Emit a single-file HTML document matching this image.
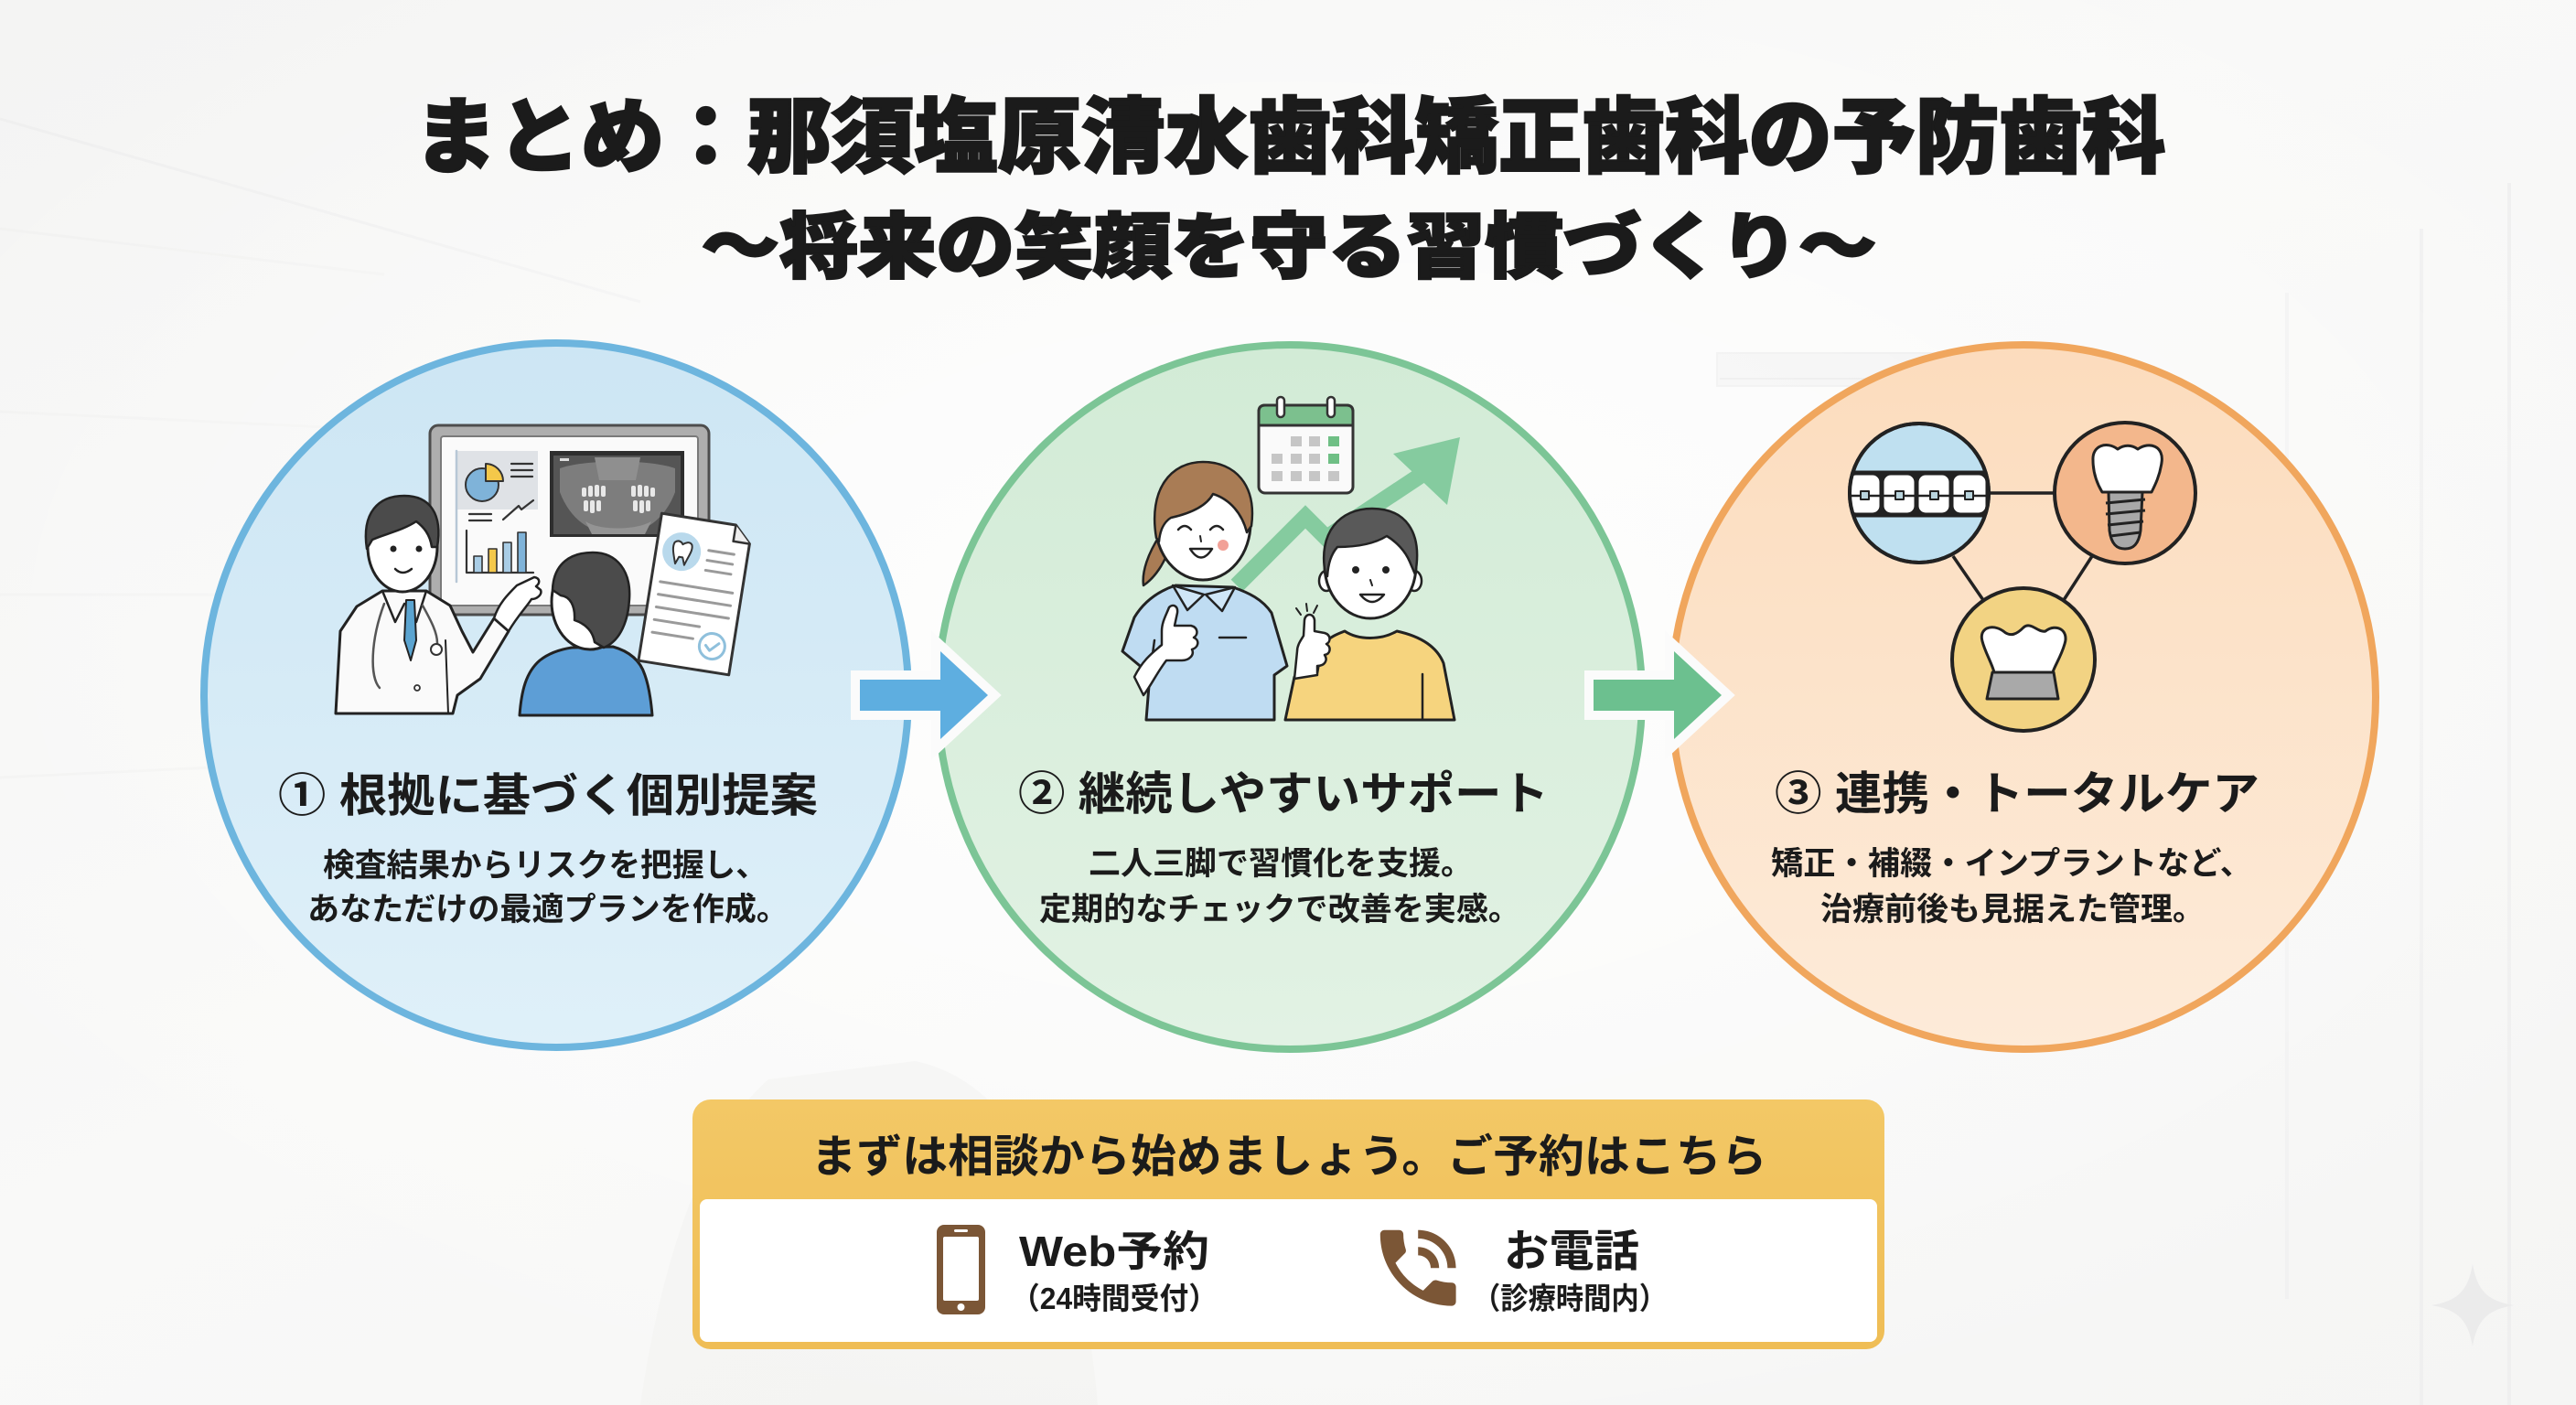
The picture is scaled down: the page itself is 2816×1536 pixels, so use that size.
<!DOCTYPE html>
<html lang="ja">
<head>
<meta charset="utf-8">
<style>
html,body{margin:0;padding:0;}
body{width:2816px;height:1536px;overflow:hidden;background:#f6f6f5;}
svg{display:block;}
text{font-family:"Liberation Sans","Noto Sans CJK JP",sans-serif;font-weight:700;fill:#1b1b1b;}
</style>
</head>
<body>
<svg width="2816" height="1536" viewBox="0 0 2816 1536" xmlns="http://www.w3.org/2000/svg">
<defs>
  <linearGradient id="bg" x1="0" y1="0" x2="1" y2="1">
    <stop offset="0" stop-color="#f4f4f3"/>
    <stop offset="0.45" stop-color="#f9f9f8"/>
    <stop offset="1" stop-color="#f5f5f4"/>
  </linearGradient>
  <radialGradient id="glow" cx="0.5" cy="0.45" r="0.6">
    <stop offset="0" stop-color="#ffffff" stop-opacity="0.9"/>
    <stop offset="1" stop-color="#ffffff" stop-opacity="0"/>
  </radialGradient>
  <linearGradient id="c1" x1="0" y1="0" x2="0" y2="1">
    <stop offset="0" stop-color="#cde6f4"/>
    <stop offset="1" stop-color="#dff0f9"/>
  </linearGradient>
  <linearGradient id="c2" x1="0" y1="0" x2="0" y2="1">
    <stop offset="0" stop-color="#d2ebd6"/>
    <stop offset="1" stop-color="#e2f2e4"/>
  </linearGradient>
  <linearGradient id="c3" x1="0" y1="0" x2="0" y2="1">
    <stop offset="0" stop-color="#fcdcbd"/>
    <stop offset="1" stop-color="#fdebd9"/>
  </linearGradient>
  <linearGradient id="yb" x1="0" y1="0" x2="0" y2="1">
    <stop offset="0" stop-color="#f3c866"/>
    <stop offset="1" stop-color="#efbd55"/>
  </linearGradient>
  <clipPath id="cpBlue"><circle cx="2098" cy="539" r="76"/></clipPath>
</defs>

<!-- background -->
<rect width="2816" height="1536" fill="url(#bg)"/>
<g stroke="#f0f0ef" stroke-width="3" opacity="0.6">
  <line x1="0" y1="250" x2="420" y2="300"/>
  <line x1="0" y1="450" x2="420" y2="470"/>
  <line x1="0" y1="650" x2="420" y2="650"/>
  <line x1="0" y1="850" x2="420" y2="830"/>
</g>
<line x1="0" y1="130" x2="700" y2="330" stroke="#efefef" stroke-width="3"/>
<line x1="2647" y1="250" x2="2647" y2="1536" stroke="#efefef" stroke-width="4"/>
<line x1="2743" y1="200" x2="2743" y2="1536" stroke="#efefef" stroke-width="4"/>
<line x1="2500" y1="320" x2="2500" y2="1420" stroke="#f1f1f1" stroke-width="4"/>
<rect x="1877" y="386" width="269" height="36" fill="#eeeeee" stroke="#e6e6e6" stroke-width="2"/>
<line x1="1880" y1="414" x2="2143" y2="414" stroke="#e0e0e0" stroke-width="2"/>
<rect width="2816" height="1536" fill="url(#glow)"/>
<path d="M700 1536 C720 1400 760 1250 840 1180 L1000 1160 C1100 1180 1180 1300 1200 1536 Z" fill="#efefee" opacity="0.4"/>

<!-- sparkle -->
<path d="M2703 1382 C2708 1410 2718 1422 2748 1427 C2718 1432 2708 1444 2703 1472 C2698 1444 2688 1432 2658 1427 C2688 1422 2698 1410 2703 1382 Z" fill="#ebebeb"/>

<!-- Title -->
<text x="1410" y="181" font-size="90" text-anchor="middle" textLength="1915" lengthAdjust="spacingAndGlyphs" stroke="#1b1b1b" stroke-width="2.5" style="font-weight:900">まとめ：那須塩原清水歯科矯正歯科の予防歯科</text>
<text x="1409" y="297" font-size="78" text-anchor="middle" textLength="1285" lengthAdjust="spacingAndGlyphs" stroke="#1b1b1b" stroke-width="2.5" style="font-weight:900">〜将来の笑顔を守る習慣づくり〜</text>

<!-- Circles -->
<circle cx="608" cy="760" r="385" fill="url(#c1)" stroke="#6db5de" stroke-width="8"/>
<circle cx="1410" cy="762" r="385" fill="url(#c2)" stroke="#7cc596" stroke-width="8"/>
<circle cx="2212" cy="762" r="385" fill="url(#c3)" stroke="#f0a65d" stroke-width="8"/>

<!-- ============ Circle 1 illustration ============ -->
<g stroke-linejoin="round" stroke-linecap="round">
  <!-- monitor -->
  <rect x="470" y="465" width="305" height="207" rx="9" fill="#aeaeae" stroke="#4d4d4d" stroke-width="3"/>
  <rect x="482" y="477" width="281" height="185" rx="3" fill="#fafafa" stroke="#7a7a7a" stroke-width="2"/>
  <rect x="498" y="493" width="90" height="64" fill="#dfe2e6"/>
  <line x1="499" y1="493" x2="499" y2="636" stroke="#b7c7d6" stroke-width="2.5"/>
  <circle cx="527" cy="530" r="18" fill="#7fb3d9" stroke="#333" stroke-width="2"/>
  <path d="M531 526 L531 507 A19 19 0 0 1 550 526 Z" fill="#f4c84a" stroke="#333" stroke-width="2"/>
  <g stroke="#333" stroke-width="2.2" fill="none">
    <line x1="559" y1="507" x2="582" y2="507"/>
    <line x1="559" y1="514" x2="582" y2="514"/>
    <line x1="559" y1="521" x2="582" y2="521"/>
    <polyline points="550,568 567,553 570,557 583,547"/>
    <line x1="513" y1="562" x2="537" y2="562"/>
    <line x1="513" y1="569" x2="537" y2="569"/>
    <polyline points="510,580 510,626 583,626"/>
  </g>
  <rect x="518" y="608" width="9" height="18" fill="#a9cde6" stroke="#333" stroke-width="1.6"/>
  <rect x="534" y="600" width="9" height="26" fill="#f4c84a" stroke="#333" stroke-width="1.6"/>
  <rect x="550" y="593" width="9" height="33" fill="#a9cde6" stroke="#333" stroke-width="1.6"/>
  <rect x="566" y="582" width="9" height="44" fill="#7fb3d9" stroke="#333" stroke-width="1.6"/>
  <!-- xray -->
  <rect x="601" y="493" width="147" height="94" fill="#2e2e2e"/>
  <rect x="605" y="498" width="139" height="86" fill="#555"/>
  <path d="M612 512 C640 502 710 502 738 512 L738 538 C725 572 700 584 675 584 C650 584 625 572 612 538 Z" fill="#7d7d7d"/>
  <path d="M650 500 L700 500 L695 525 L655 525 Z" fill="#8f8f8f"/>
  <path d="M640 570 C655 580 695 580 712 570 L705 584 L647 584 Z" fill="#949494"/>
  <g fill="#e8e8e8">
    <rect x="636" y="533" width="5" height="10" rx="2"/><rect x="643" y="531" width="5" height="12" rx="2"/><rect x="650" y="530" width="5" height="13" rx="2"/><rect x="657" y="531" width="5" height="12" rx="2"/>
    <rect x="690" y="531" width="5" height="12" rx="2"/><rect x="697" y="530" width="5" height="13" rx="2"/><rect x="704" y="531" width="5" height="12" rx="2"/><rect x="711" y="533" width="5" height="10" rx="2"/>
    <rect x="638" y="547" width="5" height="12" rx="2"/><rect x="645" y="547" width="5" height="14" rx="2"/><rect x="652" y="547" width="5" height="12" rx="2"/>
    <rect x="692" y="547" width="5" height="12" rx="2"/><rect x="699" y="547" width="5" height="14" rx="2"/><rect x="706" y="547" width="5" height="12" rx="2"/>
  </g>
  <rect x="612" y="501" width="10" height="3" fill="#ddd"/>
  <!-- doctor -->
  <path d="M367 780 L372 690 L390 663 L418 646 L466 646 L492 662 L505 690 L517 713 L540 676 L556 690 L525 742 L500 760 L495 780 Z" fill="#fafafa" stroke="#222" stroke-width="3"/>
  <path d="M418 646 L432 680 L442 660 M466 646 L455 680 L446 660" fill="none" stroke="#222" stroke-width="2.5"/>
  <path d="M444 656 L453 656 L455 700 L449 722 L442 700 Z" fill="#5ba4d0" stroke="#222" stroke-width="2"/>
  <path d="M420 660 C405 700 404 740 415 752" fill="none" stroke="#555" stroke-width="2.5"/>
  <path d="M462 662 C472 680 478 692 478 703" fill="none" stroke="#555" stroke-width="2.5"/>
  <circle cx="477" cy="710" r="6" fill="#fff" stroke="#333" stroke-width="2"/>
  <circle cx="456" cy="752" r="3" fill="none" stroke="#333" stroke-width="1.8"/>
  <line x1="487" y1="700" x2="490" y2="780" stroke="#222" stroke-width="2"/>
  <path d="M540 676 C545 660 555 650 565 640 L584 631 C590 632 591 637 586 641 L591 645 C593 650 587 655 581 655 C576 663 566 673 556 690 Z" fill="#fff" stroke="#222" stroke-width="2.5"/>
  <ellipse cx="440" cy="598" rx="38" ry="49" fill="#fff" stroke="#222" stroke-width="3"/>
  <path d="M401 600 C395 560 414 542 442 542 C470 542 484 562 478 598 L472 598 C470 584 463 576 455 570 C440 580 420 584 407 590 Z" fill="#4b4b4b" stroke="#222" stroke-width="2.5"/>
  <circle cx="430" cy="600" r="3.5" fill="#222"/>
  <circle cx="458" cy="600" r="3.5" fill="#222"/>
  <path d="M432 622 Q440 630 450 622" fill="none" stroke="#222" stroke-width="2.5"/>
  <!-- patient -->
  <path d="M568 782 C570 755 575 735 590 722 C600 714 612 710 625 708 L670 707 C688 712 700 722 705 738 C710 752 712 770 713 782 Z" fill="#5d9ed6" stroke="#222" stroke-width="3"/>
  <ellipse cx="645" cy="658" rx="42" ry="52" fill="#fff" stroke="#222" stroke-width="3"/>
  <path d="M604 645 C605 615 625 604 648 604 C675 604 690 625 688 655 C686 685 675 702 660 708 L650 702 C648 690 640 682 628 678 C629 662 623 652 613 651 Z" fill="#4b4b4b" stroke="#222" stroke-width="2.5"/>
  <!-- document -->
  <g transform="rotate(9 760 650)">
    <path d="M710 568 L792 568 L810 586 L810 731 L710 731 Z" fill="#fff" stroke="#333" stroke-width="3"/>
    <path d="M792 568 L792 586 L810 586" fill="#eee" stroke="#333" stroke-width="2.5"/>
    <circle cx="738" cy="606" r="21" fill="#b9d9ec"/>
    <path d="M729 597 C733 593 737 596 738 598 C740 596 745 593 748 597 C750 602 747 608 745 614 L743 620 L740 612 L736 612 L733 620 L731 614 C729 608 727 602 729 597 Z" fill="#fff" stroke="#333" stroke-width="2"/>
    <g stroke="#9a9a9a" stroke-width="3">
      <line x1="767" y1="600" x2="795" y2="600"/>
      <line x1="767" y1="611" x2="795" y2="611"/>
      <line x1="767" y1="622" x2="795" y2="622"/>
      <line x1="720" y1="642" x2="800" y2="642"/>
      <line x1="720" y1="656" x2="800" y2="656"/>
      <line x1="720" y1="670" x2="800" y2="670"/>
      <line x1="720" y1="684" x2="770" y2="684"/>
      <line x1="720" y1="698" x2="765" y2="698"/>
    </g>
    <circle cx="787" cy="703" r="14" fill="#fff" stroke="#8fc0dc" stroke-width="3"/>
    <path d="M780 703 L785 708 L794 699" fill="none" stroke="#8fc0dc" stroke-width="3"/>
  </g>
</g>

<!-- ============ Circle 2 illustration ============ -->
<g stroke-linejoin="round" stroke-linecap="round">
  <!-- growth arrow -->
  <polyline points="1352,640 1427,565 1450,588 1560,515" fill="none" stroke="#85cb9f" stroke-width="18" stroke-linecap="butt" stroke-linejoin="miter"/>
  <polygon points="1523,496 1596,478 1582,552" fill="#85cb9f"/>
  <!-- calendar -->
  <rect x="1376" y="443" width="103" height="96" rx="7" fill="#fafafa" stroke="#333" stroke-width="3"/>
  <path d="M1383 443 L1472 443 Q1479 443 1479 450 L1479 465 L1376 465 L1376 450 Q1376 443 1383 443 Z" fill="#7cc08e" stroke="#333" stroke-width="3"/>
  <rect x="1396" y="434" width="8" height="22" rx="4" fill="#fff" stroke="#333" stroke-width="2.5"/>
  <rect x="1451" y="434" width="8" height="22" rx="4" fill="#fff" stroke="#333" stroke-width="2.5"/>
  <g fill="#c6c6c6">
    <rect x="1411" y="477" width="12" height="11"/><rect x="1431" y="477" width="12" height="11"/>
    <rect x="1390" y="496" width="12" height="11"/><rect x="1411" y="496" width="12" height="11"/><rect x="1431" y="496" width="12" height="11"/>
    <rect x="1390" y="515" width="12" height="11"/><rect x="1411" y="515" width="12" height="11"/><rect x="1431" y="515" width="12" height="11"/><rect x="1452" y="515" width="12" height="11"/>
  </g>
  <rect x="1452" y="477" width="12" height="11" fill="#6fbf85"/>
  <rect x="1452" y="496" width="12" height="11" fill="#6fbf85"/>
  <!-- woman -->
  <path d="M1268 585 C1255 605 1248 625 1250 640 C1262 632 1274 615 1278 598 Z" fill="#a97c55" stroke="#222" stroke-width="2.5"/>
  <path d="M1253 787 L1257 737 L1227 712 L1240 675 C1252 655 1270 645 1285 640 L1348 642 C1365 648 1380 655 1390 670 L1407 728 L1393 738 L1393 787 Z" fill="#bfdcf2" stroke="#222" stroke-width="3"/>
  <path d="M1282 640 L1298 667 L1316 650 Z M1350 642 L1336 668 L1318 650 Z" fill="#cfe6f7" stroke="#222" stroke-width="2.5"/>
  <line x1="1333" y1="697" x2="1362" y2="697" stroke="#222" stroke-width="2.5"/>
  <line x1="1257" y1="737" x2="1262" y2="700" stroke="#222" stroke-width="2.5"/>
  <path d="M1240 740 C1250 720 1262 712 1270 705 L1270 690 C1270 680 1275 672 1278 664 C1282 660 1288 662 1287 670 L1284 684 L1302 684 C1310 686 1310 694 1305 697 C1312 700 1310 708 1303 710 C1306 716 1300 722 1292 722 L1275 722 C1265 735 1258 750 1250 760 Z" fill="#fff" stroke="#222" stroke-width="2.5"/>
  <ellipse cx="1315" cy="572" rx="52" ry="62" fill="#fff" stroke="#222" stroke-width="3"/>
  <path d="M1264 588 C1255 535 1280 505 1315 505 C1350 505 1374 530 1368 575 L1363 582 C1358 562 1345 546 1326 540 C1318 555 1298 562 1280 566 C1272 571 1268 580 1267 592 Z" fill="#a97c55" stroke="#222" stroke-width="2.5"/>
  <path d="M1288 579 Q1295 571 1302 579 M1323 579 Q1330 571 1337 579" fill="none" stroke="#222" stroke-width="2.5"/>
  <path d="M1312 586 L1313 592" stroke="#222" stroke-width="2"/>
  <path d="M1301 600 Q1313 619 1325 600 Z" fill="#fff" stroke="#222" stroke-width="2.5"/>
  <circle cx="1337" cy="596" r="6" fill="#f2a197"/>
  <!-- boy -->
  <path d="M1405 787 L1415 740 L1440 735 L1445 705 C1455 695 1465 692 1470 690 C1485 700 1510 700 1527 690 C1550 695 1570 705 1578 725 L1590 787 Z" fill="#f6d47e" stroke="#222" stroke-width="3"/>
  <line x1="1555" y1="737" x2="1555" y2="787" stroke="#222" stroke-width="2.5"/>
  <path d="M1415 742 L1418 712 C1418 705 1422 700 1425 695 L1426 678 C1427 670 1436 670 1437 678 L1437 690 L1448 692 C1455 694 1455 702 1450 704 C1456 708 1454 715 1448 716 C1452 722 1448 728 1440 728 L1440 738 Z" fill="#fff" stroke="#222" stroke-width="2.5"/>
  <path d="M1417 665 L1422 672 M1428 660 L1429 668 M1440 662 L1436 670" stroke="#222" stroke-width="2"/>
  <ellipse cx="1450" cy="635" rx="8" ry="11" fill="#fff" stroke="#222" stroke-width="2.5"/>
  <ellipse cx="1546" cy="635" rx="8" ry="11" fill="#fff" stroke="#222" stroke-width="2.5"/>
  <ellipse cx="1498" cy="618" rx="50" ry="58" fill="#fff" stroke="#222" stroke-width="3"/>
  <path d="M1449 628 C1440 582 1465 556 1500 556 C1535 556 1556 580 1547 628 L1541 614 C1536 602 1526 592 1516 586 C1500 596 1480 598 1462 598 C1455 606 1452 616 1451 630 Z" fill="#595959" stroke="#222" stroke-width="2.5"/>
  <circle cx="1482" cy="623" r="4" fill="#222"/>
  <circle cx="1515" cy="623" r="4" fill="#222"/>
  <path d="M1498 634 L1500 640" stroke="#222" stroke-width="2"/>
  <path d="M1487 650 Q1500 666 1513 650 Z" fill="#fff" stroke="#222" stroke-width="2.5"/>
</g>

<!-- ============ Circle 3 illustration ============ -->
<g stroke="#222" stroke-linejoin="round">
  <line x1="2175" y1="539" x2="2247" y2="539" stroke-width="3.5"/>
  <line x1="2135" y1="608" x2="2168" y2="656" stroke-width="3.5"/>
  <line x1="2287" y1="608" x2="2256" y2="656" stroke-width="3.5"/>
  <circle cx="2098" cy="539" r="76" fill="#bfe0f0" stroke-width="4"/>
  <g clip-path="url(#cpBlue)">
    <rect x="2020" y="515" width="160" height="50" fill="#222"/>
    <rect x="2020" y="518" width="36" height="44" rx="9" fill="#fff" stroke-width="3"/>
    <rect x="2058" y="518" width="36" height="44" rx="9" fill="#fff" stroke-width="3"/>
    <rect x="2096" y="518" width="36" height="44" rx="9" fill="#fff" stroke-width="3"/>
    <rect x="2134" y="518" width="38" height="44" rx="9" fill="#fff" stroke-width="3"/>
    <line x1="2020" y1="542" x2="2178" y2="542" stroke-width="2.5"/>
    <rect x="2034" y="537" width="9" height="9" fill="#b9d4dd" stroke-width="2"/>
    <rect x="2072" y="537" width="9" height="9" fill="#b9d4dd" stroke-width="2"/>
    <rect x="2110" y="537" width="9" height="9" fill="#b9d4dd" stroke-width="2"/>
    <rect x="2148" y="537" width="9" height="9" fill="#b9d4dd" stroke-width="2"/>
  </g>
  <circle cx="2098" cy="539" r="76" fill="none" stroke-width="4"/>
  <circle cx="2323" cy="539" r="77" fill="#f3b78c" stroke-width="4"/>
  <path d="M2305 538 L2342 538 L2340 580 C2338 595 2332 600 2323 600 C2314 600 2308 595 2306 580 Z" fill="#a8a8a8" stroke-width="3"/>
  <g stroke-width="3">
    <line x1="2302" y1="550" x2="2345" y2="546"/>
    <line x1="2302" y1="562" x2="2345" y2="558"/>
    <line x1="2304" y1="574" x2="2343" y2="570"/>
    <line x1="2307" y1="586" x2="2340" y2="582"/>
  </g>
  <path d="M2288 503 C2287 487 2303 482 2315 491 C2322 486 2330 486 2337 491 C2350 482 2366 488 2363 506 C2361 520 2356 530 2352 538 L2298 538 C2292 528 2288 516 2288 503 Z" fill="#fff" stroke-width="3"/>
  <circle cx="2212" cy="721" r="78" fill="#f2d383" stroke-width="4"/>
  <polygon points="2178,735 2245,735 2250,764 2172,764" fill="#a9a9a9" stroke-width="3"/>
  <path d="M2167 701 C2163 687 2177 681 2190 690 C2198 697 2205 693 2212 686 C2220 679 2228 692 2236 690 C2248 681 2262 689 2257 704 C2253 718 2246 728 2244 735 L2180 735 C2177 724 2170 713 2167 701 Z" fill="#fff" stroke-width="3"/>
</g>

<!-- Arrows -->
<polygon points="940,743 1028,743 1028,712 1080,760 1028,808 1028,777 940,777" fill="#5eaee0" stroke="#fbfbfb" stroke-width="20" stroke-linejoin="miter" paint-order="stroke"/>
<polygon points="1742,743 1830,743 1830,712 1882,760 1830,808 1830,777 1742,777" fill="#6cc08f" stroke="#fbfbfb" stroke-width="20" stroke-linejoin="miter" paint-order="stroke"/>

<!-- Circle texts -->
<text x="599" y="887" font-size="50" text-anchor="middle" textLength="590" lengthAdjust="spacingAndGlyphs">① 根拠に基づく個別提案</text>
<text x="596" y="958" font-size="35" text-anchor="middle" textLength="486" lengthAdjust="spacingAndGlyphs">検査結果からリスクを把握し、</text>
<text x="599" y="1006" font-size="35" text-anchor="middle" textLength="526" lengthAdjust="spacingAndGlyphs">あなただけの最適プランを作成。</text>

<text x="1403" y="885" font-size="50" text-anchor="middle" textLength="580" lengthAdjust="spacingAndGlyphs">② 継続しやすいサポート</text>
<text x="1400" y="956" font-size="35" text-anchor="middle" textLength="420" lengthAdjust="spacingAndGlyphs">二人三脚で習慣化を支援。</text>
<text x="1399" y="1006" font-size="35" text-anchor="middle" textLength="526" lengthAdjust="spacingAndGlyphs">定期的なチェックで改善を実感。</text>

<text x="2205" y="885" font-size="50" text-anchor="middle" textLength="530" lengthAdjust="spacingAndGlyphs">③ 連携・トータルケア</text>
<text x="2199" y="956" font-size="35" text-anchor="middle" textLength="526" lengthAdjust="spacingAndGlyphs">矯正・補綴・インプラントなど、</text>
<text x="2200" y="1006" font-size="35" text-anchor="middle" textLength="420" lengthAdjust="spacingAndGlyphs">治療前後も見据えた管理。</text>

<!-- Bottom box -->
<rect x="757" y="1202" width="1303" height="273" rx="20" fill="url(#yb)"/>
<rect x="765" y="1311" width="1287" height="156" rx="8" fill="#ffffff"/>
<text x="1409" y="1281" font-size="49" text-anchor="middle" textLength="1045" lengthAdjust="spacingAndGlyphs">まずは相談から始めましょう。ご予約はこちら</text>

<!-- phone icon -->
<rect x="1024" y="1339" width="53" height="98" rx="8" fill="#7b5636"/>
<rect x="1031" y="1352" width="39" height="70" rx="2" fill="#ffffff"/>
<rect x="1043" y="1344" width="15" height="3" rx="1.5" fill="#ffffff"/>
<circle cx="1050.5" cy="1429" r="4" fill="#ffffff"/>

<text x="1218" y="1384" font-size="46" text-anchor="middle" textLength="208" lengthAdjust="spacingAndGlyphs">Web予約</text>
<text x="1218" y="1431" font-size="33" text-anchor="middle" textLength="226" lengthAdjust="spacingAndGlyphs">（24時間受付）</text>

<!-- handset icon (phone in talk) -->
<g transform="translate(1495 1331) scale(4.6)" fill="#7b5636">
  <path d="M20 15.5c-1.25 0-2.45-.2-3.57-.57-.35-.11-.74-.03-1.02.24l-2.2 2.2c-2.83-1.44-5.15-3.75-6.59-6.59l2.2-2.21c.28-.26.36-.65.25-1C8.7 6.45 8.5 5.25 8.5 4c0-.55-.45-1-1-1H4c-.55 0-1 .45-1 1 0 9.39 7.61 17 17 17 .55 0 1-.45 1-1v-3.5c0-.55-.45-1-1-1z"/>
  <path d="M19 12h2c0-4.97-4.03-9-9-9v2c3.87 0 7 3.13 7 7zm-4 0h2c0-2.76-2.24-5-5-5v2c1.66 0 3 1.34 3 3z"/>
</g>

<text x="1718" y="1384" font-size="48" text-anchor="middle" textLength="148" lengthAdjust="spacingAndGlyphs">お電話</text>
<text x="1716" y="1431" font-size="33" text-anchor="middle" textLength="212" lengthAdjust="spacingAndGlyphs">（診療時間内）</text>
</svg>
</body>
</html>
